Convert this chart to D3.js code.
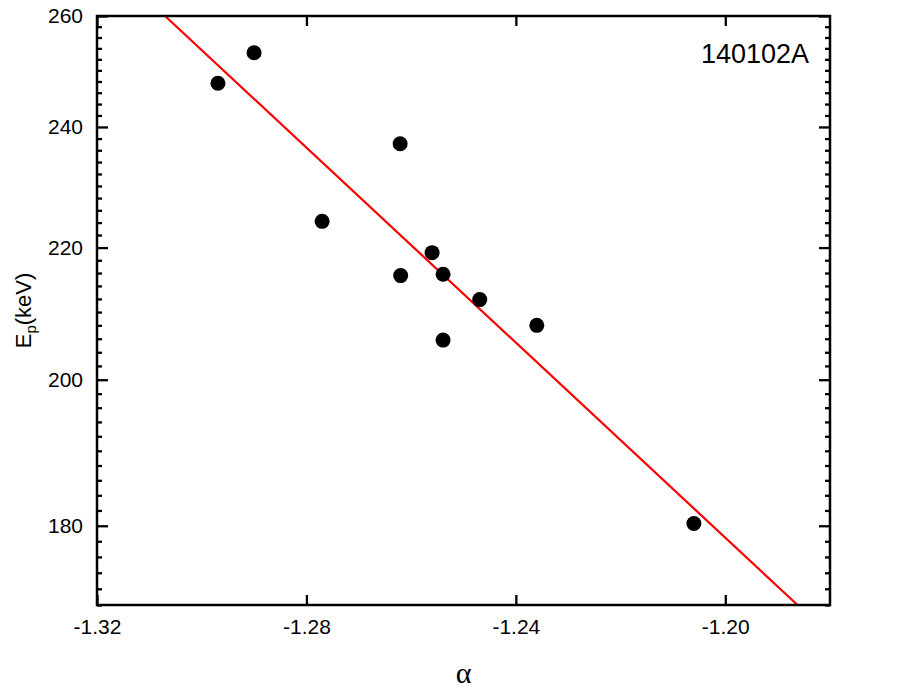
<!doctype html>
<html>
<head>
  <meta charset="utf-8">
  <title>140102A Ep vs alpha</title>
  <script src="https://d3js.org/d3.v7.min.js"></script>
  <style>
    body { margin:0; background:#fff; }
    svg { display:block; }
    .tick text { font-family:"Liberation Sans", Arial, sans-serif; font-size:21px; fill:#000; }
    .tick line { stroke:#000; stroke-width:2.3; }
    .domain { display:none; }
  </style>
</head>
<body>
  <svg id="chart" width="917" height="695"></svg>
  <script>
    // burst spectral points: low-energy index alpha vs peak energy
    const alpha = [-1.2969, -1.2900, -1.2770, -1.2621, -1.2620, -1.2560, -1.2539, -1.2539, -1.2469, -1.2360, -1.2060];
    const ep    = [247.7, 253.2, 224.2, 237.1, 215.6, 219.2, 215.8, 205.8, 211.9, 208.0, 180.3];

    // fitted line (straight in log Ep)
    const fitAlpha = [-1.3070, -1.1862];
    const fitEp    = [260, 170];

    const xTicks = [-1.32, -1.28, -1.24, -1.20];
    const yTicks = [180, 200, 220, 240, 260];
    const yMinor = d3.range(170, 261, 2).filter(v => !yTicks.includes(v));

    const burstName = "140102A";

    const svg = d3.select("#chart");
    const m = { left:97, top:16, right:87, bottom:90 };
    const W = 917 - m.left - m.right;
    const H = 695 - m.top - m.bottom;

    const x = d3.scaleLinear().domain([-1.32, -1.18]).range([0, W]);
    const y = d3.scaleLog().domain([170, 260]).range([H, 0]);

    const g = svg.append("g").attr("transform", `translate(${m.left},${m.top})`);
    const fmtX = d => d.toFixed(2);

    // bottom + top
    g.append("g").attr("transform", `translate(0,${H})`)
      .call(d3.axisBottom(x).tickValues(xTicks).tickFormat(fmtX).tickSize(-10).tickPadding(14));
    g.append("g")
      .call(d3.axisTop(x).tickValues(xTicks).tickFormat("").tickSize(-10));

    // left + right, major and minor
    g.append("g")
      .call(d3.axisLeft(y).tickValues(yTicks).tickFormat(d3.format("d")).tickSize(-11).tickPadding(14));
    g.append("g")
      .call(d3.axisLeft(y).tickValues(yMinor).tickFormat("").tickSize(-5));
    g.append("g").attr("transform", `translate(${W},0)`)
      .call(d3.axisRight(y).tickValues(yTicks).tickFormat("").tickSize(-11));
    g.append("g").attr("transform", `translate(${W},0)`)
      .call(d3.axisRight(y).tickValues(yMinor).tickFormat("").tickSize(-5));

    g.selectAll(".tick text").attr("fill", "#000");

    // fit line
    const line = d3.line().x(d => x(d[0])).y(d => y(d[1]));
    g.append("path")
      .datum(fitAlpha.map((a, i) => [a, fitEp[i]]))
      .attr("d", line)
      .attr("fill", "none")
      .attr("stroke", "#f00")
      .attr("stroke-width", 2.2);

    // points
    g.selectAll("circle.pt")
      .data(alpha.map((a, i) => [a, ep[i]]))
      .enter()
      .append("circle")
      .attr("class", "pt")
      .attr("cx", d => x(d[0]))
      .attr("cy", d => y(d[1]))
      .attr("r", 7.5)
      .attr("fill", "#000");

    // frame
    g.append("rect")
      .attr("width", W).attr("height", H)
      .attr("fill", "none").attr("stroke", "#000").attr("stroke-width", 2.5);

    // burst label
    g.append("text")
      .attr("x", 809 - m.left).attr("y", 63 - m.top)
      .attr("text-anchor", "end")
      .style("font-family", "'Liberation Sans', Arial, sans-serif")
      .style("font-size", "27px")
      .text(burstName);

    // axis titles
    const yl = svg.append("text")
      .attr("transform", `translate(31,${m.top + H / 2}) rotate(-90)`)
      .attr("text-anchor", "middle")
      .style("font-family", "'Liberation Sans', Arial, sans-serif")
      .style("font-size", "22px");
    yl.append("tspan").text("E");
    yl.append("tspan").attr("dy", 5).style("font-size", "15px").text("p");
    yl.append("tspan").attr("dy", -5).text("(keV)");

    svg.append("text")
      .attr("x", m.left + W / 2).attr("y", 683)
      .attr("text-anchor", "middle")
      .style("font-family", "'Liberation Serif', 'Times New Roman', serif")
      .style("font-size", "30px")
      .text("α");
  </script>
</body>
</html>
